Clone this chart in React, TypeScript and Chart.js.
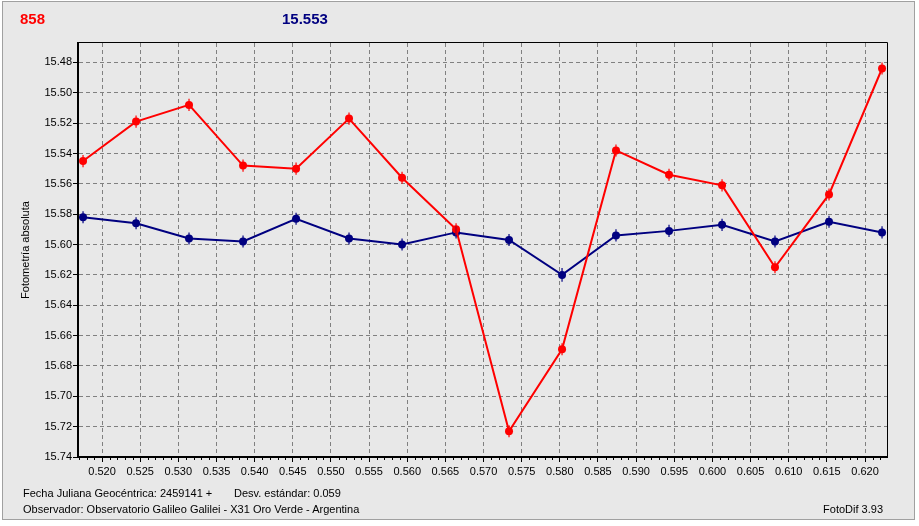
import React, { useEffect, useRef } from "react";
import { Chart, registerables } from "chart.js";

Chart.register(...registerables);

// Fractional Julian date (JD = 2459141 + value)
const julianFrac = [
  0.51751, 0.52446, 0.5314, 0.53848, 0.54543, 0.55237, 0.55932, 0.5664,
  0.57334, 0.58029, 0.58736, 0.59431, 0.60126, 0.6082, 0.61528, 0.62223,
];
// Variable star (858) magnitudes
const varMag = [
  15.545, 15.519, 15.508, 15.548, 15.55, 15.517, 15.556, 15.59,
  15.723, 15.669, 15.538, 15.554, 15.561, 15.615, 15.567, 15.484,
];
const varErr = [
  0.004, 0.004, 0.004, 0.004, 0.004, 0.004, 0.004, 0.004,
  0.004, 0.004, 0.004, 0.004, 0.004, 0.004, 0.004, 0.004,
];
// Check star (15.553) magnitudes
const chkMag = [
  15.582, 15.586, 15.596, 15.598, 15.583, 15.596, 15.6, 15.592,
  15.597, 15.62, 15.594, 15.591, 15.587, 15.598, 15.585, 15.592,
];
const chkErr = [
  0.004, 0.004, 0.004, 0.004, 0.004, 0.004, 0.004, 0.004,
  0.004, 0.0045, 0.004, 0.004, 0.004, 0.004, 0.004, 0.004,
];
const xTicks = [
  0.52, 0.525, 0.53, 0.535, 0.54, 0.545, 0.55, 0.555, 0.56, 0.565, 0.57,
  0.575, 0.58, 0.585, 0.59, 0.595, 0.6, 0.605, 0.61, 0.615, 0.62,
];
const yTicks = [
  15.48, 15.5, 15.52, 15.54, 15.56, 15.58, 15.6, 15.62, 15.64, 15.66, 15.68,
  15.7, 15.72, 15.74,
];

const RED = "#ff0000";
const NAVY = "#000080";
const FONT = "'Liberation Sans', Arial, sans-serif";

const errorBars = {
  id: "errorBars",
  afterDatasetsDraw(chart: any) {
    const ctx = chart.ctx;
    const yScale = chart.scales.y;
    const sets = [
      { idx: 1, err: chkErr, vals: chkMag, color: NAVY },
      { idx: 0, err: varErr, vals: varMag, color: RED },
    ];
    ctx.save();
    sets.forEach((s) => {
      const meta = chart.getDatasetMeta(s.idx);
      ctx.strokeStyle = s.color;
      ctx.lineWidth = 1.2;
      meta.data.forEach((pt: any, i: number) => {
        const y1 = yScale.getPixelForValue(s.vals[i] - s.err[i]);
        const y2 = yScale.getPixelForValue(s.vals[i] + s.err[i]);
        ctx.beginPath();
        ctx.moveTo(pt.x, y1);
        ctx.lineTo(pt.x, y2);
        ctx.stroke();
      });
    });
    ctx.restore();
  },
};

const frame = {
  id: "frame",
  afterDraw(chart: any) {
    const { ctx, chartArea } = chart;
    const xs = chart.scales.x;
    ctx.save();
    ctx.strokeStyle = "#000";
    ctx.lineWidth = 1;
    ctx.beginPath();
    ctx.moveTo(chartArea.left, chartArea.top - 0.5);
    ctx.lineTo(chartArea.right + 0.5, chartArea.top - 0.5);
    ctx.lineTo(chartArea.right + 0.5, chartArea.bottom);
    ctx.stroke();
    // minor ticks on x axis
    ctx.beginPath();
    for (let k = 517; k <= 622; k++) {
      if (k % 5 === 0) continue;
      const px = Math.round(xs.getPixelForValue(k / 1000)) + 0.5;
      if (px < chartArea.left || px > chartArea.right) continue;
      ctx.moveTo(px, chartArea.bottom + 1);
      ctx.lineTo(px, chartArea.bottom + 3);
    }
    ctx.stroke();
    ctx.restore();
  },
};

export default function App() {
  const ref = useRef<HTMLCanvasElement | null>(null);

  useEffect(() => {
    document.body.style.margin = "0";
    const canvas = ref.current;
    if (!canvas) return;
    const chart = new Chart(canvas, {
      type: "line",
      data: {
        datasets: [
          {
            label: "858",
            data: julianFrac.map((x, i) => ({ x, y: varMag[i] })),
            borderColor: RED,
            backgroundColor: RED,
            pointBackgroundColor: RED,
            borderWidth: 2,
            pointRadius: 4,
            pointBorderWidth: 0,
            tension: 0,
          },
          {
            label: "15.553",
            data: julianFrac.map((x, i) => ({ x, y: chkMag[i] })),
            borderColor: NAVY,
            backgroundColor: NAVY,
            pointBackgroundColor: NAVY,
            borderWidth: 2,
            pointRadius: 4,
            pointBorderWidth: 0,
            tension: 0,
          },
        ],
      },
      options: {
        animation: false,
        responsive: false,
        maintainAspectRatio: false,
        layout: { padding: { left: 0, top: 43, right: 32, bottom: 0 } },
        plugins: {
          legend: { display: false },
          tooltip: { enabled: false },
          title: { display: false },
        },
        scales: {
          x: {
            type: "linear",
            position: "bottom",
            min: 0.51685,
            max: 0.62288,
            afterBuildTicks: (s: any) => {
              s.ticks = xTicks.map((v) => ({ value: v }));
            },
            afterFit: (s: any) => {
              s.height = 69;
            },
            ticks: {
              callback: (v: any) => Number(v).toFixed(3),
              color: "#000",
              font: { family: FONT, size: 11 },
              padding: 3,
              maxRotation: 0,
              autoSkip: false,
            },
            grid: {
              color: "#808080",
              lineWidth: 1,
              tickColor: "#000",
              tickLength: 5,
              drawTicks: true,
            },
            border: { display: true, color: "#000", width: 2, dash: [4, 3] },
          },
          y: {
            type: "linear",
            position: "left",
            reverse: true,
            min: 15.4672,
            max: 15.74,
            afterBuildTicks: (s: any) => {
              s.ticks = yTicks.map((v) => ({ value: v }));
            },
            afterFit: (s: any) => {
              s.width = 78;
            },
            ticks: {
              callback: (v: any) => Number(v).toFixed(2),
              color: "#000",
              font: { family: FONT, size: 11 },
              padding: 1,
              autoSkip: false,
            },
            grid: {
              color: "#808080",
              lineWidth: 1,
              tickColor: "#000",
              tickLength: 5,
              drawTicks: true,
            },
            border: { display: true, color: "#000", width: 2, dash: [4, 3] },
            title: {
              display: true,
              text: "Fotometría absoluta",
              color: "#000",
              font: { family: FONT, size: 11 },
              padding: { top: 19, bottom: 0 },
            },
          },
        },
      },
      plugins: [errorBars, frame],
    });
    return () => chart.destroy();
  }, []);

  const txt: React.CSSProperties = {
    position: "absolute",
    fontFamily: FONT,
    fontSize: 11,
    lineHeight: "11px",
    color: "#000",
    whiteSpace: "nowrap",
  };

  return (
    <div style={{ position: "relative", width: 919, height: 526, background: "#fff" }}>
      <div
        style={{
          position: "absolute",
          left: 2,
          top: 1,
          width: 913,
          height: 519,
          boxSizing: "border-box",
          border: "1px solid #a0a0a0",
          background: "#e8e8e8",
        }}
      />
      <canvas ref={ref} width={919} height={526} style={{ position: "absolute", left: 0, top: 0 }} />
      <div style={{ ...txt, left: 20, top: 11, fontSize: 15, lineHeight: "15px", fontWeight: "bold", color: RED }}>858</div>
      <div style={{ ...txt, left: 282, top: 11, fontSize: 15, lineHeight: "15px", fontWeight: "bold", color: NAVY }}>15.553</div>
      <div style={{ ...txt, left: 23, top: 488 }}>Fecha Juliana Geocéntrica: 2459141 +</div>
      <div style={{ ...txt, left: 234, top: 488 }}>Desv. estándar: 0.059</div>
      <div style={{ ...txt, left: 23, top: 504 }}>Observador: Observatorio Galileo Galilei - X31 Oro Verde - Argentina</div>
      <div style={{ ...txt, right: 36, top: 504 }}>FotoDif 3.93</div>
    </div>
  );
}
